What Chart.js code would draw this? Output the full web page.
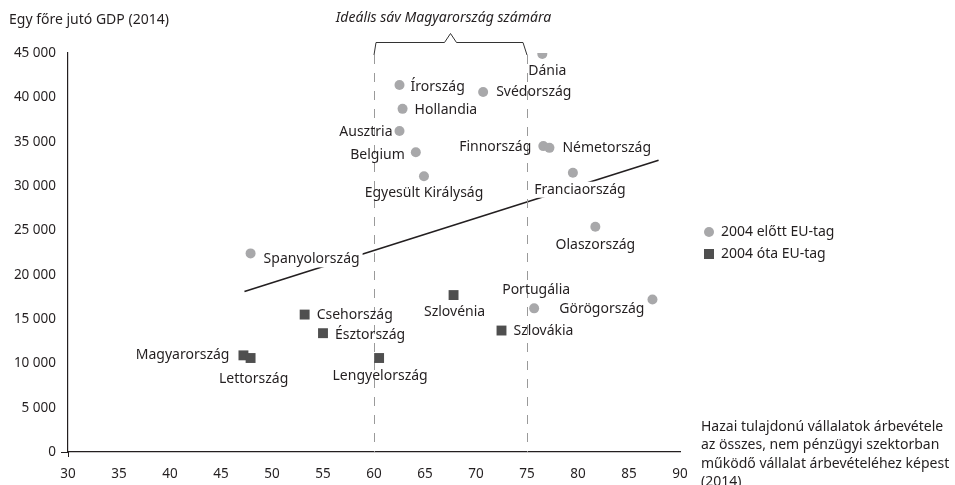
<!DOCTYPE html>
<html>
<head>
<meta charset="utf-8">
<script src="https://cdn.jsdelivr.net/npm/chart.js@4"></script>
<style>
  html, body { margin: 0; padding: 0; background: #fff; }
  #wrap { position: relative; width: 955px; height: 485px; }
</style>
</head>
<body>
<div id="wrap"><canvas id="myChart" width="955" height="485"></canvas></div>
<script>
// Adatok : 2004 előtt EU-tag
const regiNevek = ['Dánia', 'Írország', 'Svédország', 'Hollandia', 'Ausztria', 'Belgium',
    'Egyesült Királyság', 'Finnország', 'Németország', 'Franciaország', 'Olaszország',
    'Spanyolország', 'Portugália', 'Görögország'];
const regiX = [76.5, 62.5, 70.7, 62.8, 62.5, 64.1, 64.9, 76.6, 77.2, 79.5, 81.7, 47.9, 75.7, 87.3];
const regiY = [44900, 41400, 40600, 38700, 36200, 33800, 31100, 34500, 34300, 31500, 25400, 22400, 16200, 17200];

// 2004 óta EU-tag
const ujNevek = ['Magyarország', 'Lettország', 'Csehország', 'Észtország', 'Lengyelország', 'Szlovénia', 'Szlovákia'];
const ujX = [47.2, 47.9, 53.2, 55.0, 60.5, 67.8, 72.5];
const ujY = [10900, 10600, 15500, 13400, 10600, 17700, 13700];

// trendvonal
const trendX = [47.3, 87.9];
const trendY = [18100, 32900];

// sáv határai
const savHatarok = [60, 75];

const xTicks = [30, 35, 40, 45, 50, 55, 60, 65, 70, 75, 80, 85, 90];
const yTicks = [0, 5000, 10000, 15000, 20000, 25000, 30000, 35000, 40000, 45000];

const FONT = '"Noto Sans", "Open Sans", sans-serif';
const SZIN_REGI = '#a8a8aa';
const SZIN_UJ = '#4f4f4f';

// címkék helye a ponthoz képest (dx, dy, igazítás)
const cimkeHely = {
    'Dánia': [5, 17, 'center'],
    'Írország': [11, 2, 'left'],
    'Svédország': [13, 0, 'left'],
    'Hollandia': [12, 1, 'left'],
    'Ausztria': [-7, 1, 'right'],
    'Belgium': [-11, 3, 'right'],
    'Egyesült Királyság': [0, 17, 'center'],
    'Finnország': [-12, 1, 'right'],
    'Németország': [13, 0, 'left'],
    'Franciaország': [7, 17, 'center'],
    'Olaszország': [0, 18, 'center'],
    'Spanyolország': [13, 6, 'left'],
    'Portugália': [2, -18, 'center'],
    'Görögország': [-8, 10, 'right'],
    'Magyarország': [-14, 0, 'right'],
    'Lettország': [3, 21, 'center'],
    'Csehország': [12, 0, 'left'],
    'Észtország': [12, 2, 'left'],
    'Lengyelország': [1, 18, 'center'],
    'Szlovénia': [1, 17, 'center'],
    'Szlovákia': [12, 0, 'left']
};

function formatSzam(v) {
    return String(v).replace(/\B(?=(\d{3})+(?!\d))/g, ' ');
}

function pontok(xs, ys) {
    return xs.map((x, i) => ({ x: x, y: ys[i] }));
}

function cimkeAdatok(chart) {
    const lista = [];
    [[0, regiNevek], [1, ujNevek]].forEach(([di, nevek]) => {
        const meta = chart.getDatasetMeta(di);
        meta.data.forEach((el, i) => {
            const nev = nevek[i];
            const h = cimkeHely[nev];
            lista.push({ nev: nev, x: el.x + h[0], y: el.y + h[1], align: h[2] });
        });
    });
    return lista;
}

const rajzolo = {
    id: 'rajzolo',
    afterDatasetDraw(chart, args) {
        if (args.index !== 2) return;
        const ctx = chart.ctx;
        const xs = chart.scales.x;
        const area = chart.chartArea;
        ctx.save();
        // fehér háttér a címkék mögött (kitakarja a trendvonalat)
        ctx.font = '14px ' + FONT;
        cimkeAdatok(chart).forEach(c => {
            const w = ctx.measureText(c.nev).width;
            let left = c.x;
            if (c.align === 'center') left = c.x - w / 2;
            if (c.align === 'right') left = c.x - w;
            ctx.fillStyle = '#fff';
            ctx.fillRect(left - 3, c.y - 8, w + 6, 16);
        });
        // szaggatott vonalak
        ctx.strokeStyle = '#9a9a9a';
        ctx.lineWidth = 1;
        ctx.setLineDash([9, 9]);
        savHatarok.forEach(v => {
            const px = Math.round(xs.getPixelForValue(v)) + 0.5;
            ctx.beginPath();
            ctx.moveTo(px, area.top + 2);
            ctx.lineTo(px, area.bottom);
            ctx.stroke();
        });
        ctx.restore();
    },
    afterDatasetsDraw(chart) {
        const ctx = chart.ctx;
        const xs = chart.scales.x;
        const area = chart.chartArea;
        ctx.save();
        // címkék
        ctx.font = '14px ' + FONT;
        ctx.fillStyle = '#231f20';
        ctx.textBaseline = 'middle';
        cimkeAdatok(chart).forEach(c => {
            ctx.textAlign = c.align;
            ctx.fillText(c.nev, c.x, c.y);
        });

        // kapcsos zárójel a sáv fölött
        const x1 = xs.getPixelForValue(savHatarok[0]);
        const x2 = xs.getPixelForValue(savHatarok[1]);
        const mid = (x1 + x2) / 2;
        const yb = area.top - 10.5;
        ctx.strokeStyle = '#333';
        ctx.lineWidth = 1;
        ctx.beginPath();
        ctx.moveTo(x1, area.top + 2);
        ctx.lineTo(x1 + 2, yb);
        ctx.lineTo(mid - 6, yb);
        ctx.lineTo(mid, yb - 9);
        ctx.lineTo(mid + 6, yb);
        ctx.lineTo(x2 - 4, yb);
        ctx.lineTo(x2, area.top + 2);
        ctx.stroke();
        ctx.fillStyle = '#231f20';
        ctx.textAlign = 'center';
        ctx.font = 'italic 14px ' + FONT;
        ctx.fillText('Ideális sáv Magyarország számára', mid - 7, 18);

        // tengely-metszés kis túlnyúlás
        ctx.strokeStyle = '#231f20';
        ctx.beginPath();
        ctx.moveTo(area.left - 7, area.bottom + 0.5);
        ctx.lineTo(area.left, area.bottom + 0.5);
        ctx.moveTo(area.left + 0.5, area.bottom);
        ctx.lineTo(area.left + 0.5, area.bottom + 5);
        ctx.stroke();

        // tengelycímek
        ctx.font = '14px ' + FONT;
        ctx.textAlign = 'left';
        ctx.fillText('Egy főre jutó GDP (2014)', 9, 20);
        const xCim = ['Hazai tulajdonú vállalatok árbevétele',
            'az összes, nem pénzügyi szektorban',
            'működő vállalat árbevételéhez képest',
            '(2014)'];
        xCim.forEach((s, i) => ctx.fillText(s, 701, 427 + i * 18.5));

        // jelmagyarázat
        ctx.fillStyle = SZIN_REGI;
        ctx.beginPath();
        ctx.arc(709, 232, 5, 0, Math.PI * 2);
        ctx.fill();
        ctx.fillStyle = SZIN_UJ;
        ctx.fillRect(704, 249, 10, 10);
        ctx.fillStyle = '#231f20';
        ctx.fillText('2004 előtt EU-tag', 721, 232);
        ctx.fillText('2004 óta EU-tag', 721, 254);
        ctx.restore();
    }
};

const ctx = document.getElementById('myChart').getContext('2d');
const myChart = new Chart(ctx, {
    type: 'scatter',
    data: {
        datasets: [{
            label: '2004 előtt EU-tag',
            data: pontok(regiX, regiY),
            pointStyle: 'circle',
            pointRadius: 5,
            pointHoverRadius: 5,
            backgroundColor: SZIN_REGI,
            borderWidth: 0,
            order: 1
        }, {
            label: '2004 óta EU-tag',
            data: pontok(ujX, ujY),
            pointStyle: 'rect',
            pointRadius: 7,
            pointHoverRadius: 7,
            backgroundColor: SZIN_UJ,
            borderWidth: 0,
            order: 2
        }, {
            type: 'line',
            label: 'trend',
            data: pontok(trendX, trendY),
            borderColor: '#231f20',
            borderWidth: 1.6,
            pointRadius: 0,
            fill: false,
            order: 3
        }]
    },
    options: {
        responsive: false,
        animation: false,
        events: [],
        layout: { padding: { left: 0, top: 53, right: 275, bottom: 0 } },
        plugins: {
            legend: { display: false },
            tooltip: { enabled: false }
        },
        scales: {
            x: {
                type: 'linear',
                min: 30,
                max: 90,
                afterBuildTicks: s => { s.ticks = xTicks.map(v => ({ value: v })); },
                afterFit: s => { s.height = 33; },
                grid: { display: false, drawTicks: false },
                border: { display: true, color: '#231f20', width: 1.2 },
                ticks: {
                    padding: 14,
                    color: '#231f20',
                    font: { family: FONT, size: 13.5 },
                    maxRotation: 0,
                    autoSkip: false
                }
            },
            y: {
                type: 'linear',
                min: 0,
                max: 45000,
                afterBuildTicks: s => { s.ticks = yTicks.map(v => ({ value: v })); },
                afterFit: s => { s.width = 68; },
                grid: { display: false, drawTicks: false },
                border: { display: true, color: '#231f20', width: 1.2 },
                ticks: {
                    padding: 12,
                    color: '#231f20',
                    font: { family: FONT, size: 13.5 },
                    callback: v => formatSzam(v)
                }
            }
        }
    },
    plugins: [rajzolo]
});
</script>
</body>
</html>
